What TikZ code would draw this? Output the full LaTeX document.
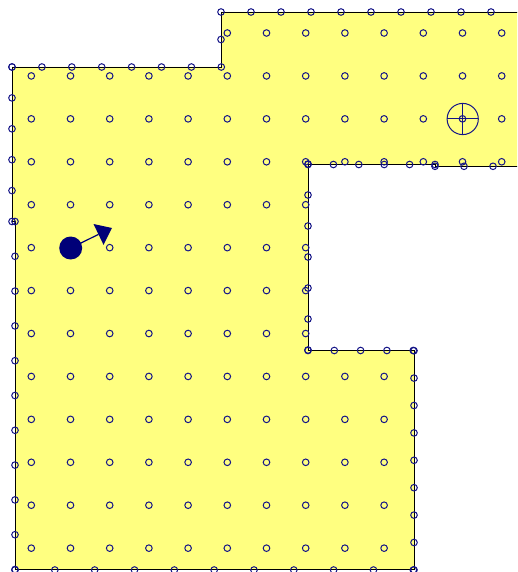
\documentclass[tikz,border=0pt]{standalone}
\usetikzlibrary{calc}
\definecolor{fieldyellow}{RGB}{255,255,128}
\definecolor{mknavy}{RGB}{20,20,135}
\definecolor{robotnavy}{RGB}{0,0,120}
\tikzset{
  gridpt/.style={draw=mknavy, line width=1pt},
  edgept/.style={draw=mknavy, line width=1pt},
  wall/.style={draw=black, line width=0.9pt, fill=fieldyellow, line join=miter},
  targetmark/.style={draw=mknavy, line width=1pt},
  robotbody/.style={fill=robotnavy},
  robotdir/.style={draw=robotnavy, line width=1.2pt}
}
\begin{document}
\begin{tikzpicture}[x=1pt,y=-1pt]
\useasboundingbox (0,0) rectangle (517,572);
\clip (0,0) rectangle (517,572);
% floor area
\path[wall] (12,67) -- (221,67) -- (221,12) -- (540,12) -- (540,166) -- (435,166) -- (435,164.3)
  -- (308,164.3) -- (308,350.5) -- (414,350.5) -- (414,569) -- (15,569) -- (15,221.5) -- (12,221.5) -- cycle;
% inner grid
\foreach \i in {5,...,12} {\draw[gridpt] ({31.3+39.2*\i},{33}) circle (3.3);}
\foreach \j in {1,2,3} {\foreach \i in {0,...,12} {\draw[gridpt] ({31.3+39.2*\i},{33+42.93*\j}) circle (3.3);}}
\foreach \j in {4,...,7} {\foreach \i in {0,...,7} {\draw[gridpt] ({31.3+39.2*\i},{33+42.93*\j}) circle (3.3);}}
\foreach \j in {8,...,12} {\foreach \i in {0,...,9} {\draw[gridpt] ({31.3+39.2*\i},{33+42.93*\j}) circle (3.3);}}
% boundary samples
\foreach \k in {0,...,7} {\draw[edgept] ({12+29.9*\k},67) circle (3.3);}
\draw[edgept] (221,39.5) circle (3.3);
\foreach \k in {0,...,10} {\draw[edgept] ({221+30*\k},12) circle (3.3);}
\foreach \k in {0,...,5} {\draw[edgept] (12,{67+30.9*\k}) circle (3.3);}
\foreach \k in {0,...,10} {\draw[edgept] (15,{221.5+34.8*\k}) circle (3.3);}
\foreach \k in {0,...,10} {\draw[edgept] ({15+39.83*\k},570) circle (3.3);}
\foreach \k in {0,...,8} {\draw[edgept] (414,{350.7+27.4*\k}) circle (3.3);}
\foreach \k in {0,...,4} {\draw[edgept] ({308+26.3*\k},350.5) circle (3.3);}
\foreach \k in {0,...,6} {\draw[edgept] (308,{164+31*\k}) circle (3.3);}
\foreach \k in {0,...,5} {\draw[edgept] ({308+25.4*\k},164.5) circle (3.3);}
\foreach \k in {0,...,3} {\draw[edgept] ({435+29*\k},166.3) circle (3.3);}
% target
\coordinate (tgt) at (462.7,119);
\draw[targetmark] (tgt) circle (15.6);
\draw[targetmark] ([xshift=-15.6pt]tgt) -- ([xshift=15.6pt]tgt);
\draw[targetmark] ([yshift=-15.6pt]tgt) -- ([yshift=15.6pt]tgt);
% robot
\coordinate (rob) at (70.7,248);
\coordinate (rtip) at (112,228);
\coordinate (rb1) at (93.5,224);
\coordinate (rb2) at (103.5,244.8);
\draw[robotdir] (rob) -- ($(rb1)!0.5!(rb2)$);
\fill[robotbody] (rb1) -- (rtip) -- (rb2) -- cycle;
\fill[robotbody] (rob) circle (11.5);
\end{tikzpicture}
\end{document}
